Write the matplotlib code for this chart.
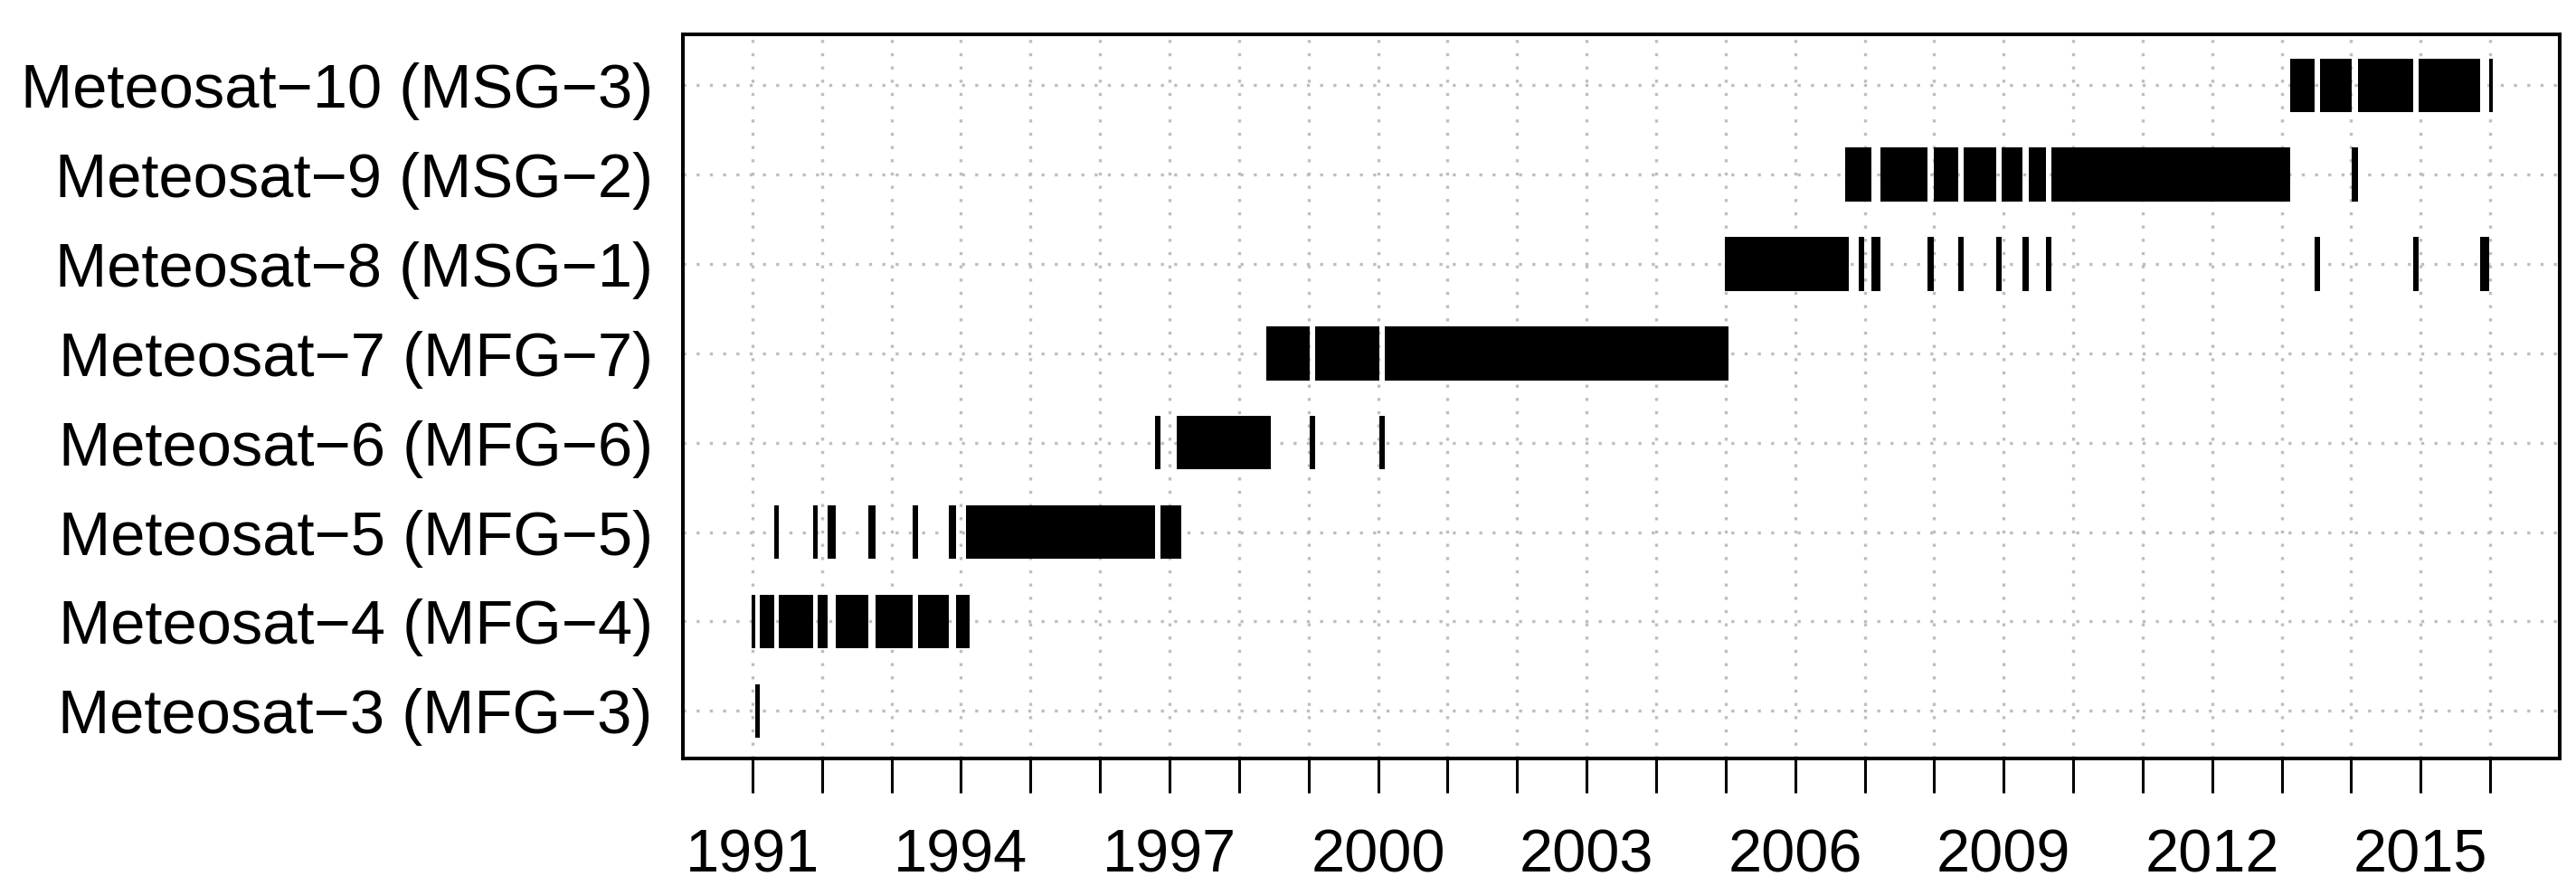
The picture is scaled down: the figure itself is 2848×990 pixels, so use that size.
import matplotlib
matplotlib.use("Agg")
import matplotlib.pyplot as plt

# Operational periods (decimal years), one list per satellite
meteosat_3 = [(1991.035, 1991.100)]
meteosat_4 = [(1990.983, 1991.035), (1991.100, 1991.308), (1991.373, 1991.880), (1991.945, 1992.088),
              (1992.193, 1992.661), (1992.765, 1993.311), (1993.389, 1993.819), (1993.923, 1994.131)]
meteosat_5 = [(1991.308, 1991.373), (1991.880, 1991.945), (1992.088, 1992.193), (1992.661, 1992.765),
              (1993.311, 1993.389), (1993.819, 1993.923), (1994.079, 1996.788), (1996.866, 1997.165)]
meteosat_6 = [(1996.788, 1996.866), (1997.100, 1998.463), (1999.022, 1999.100), (2000.022, 2000.100)]
meteosat_7 = [(1998.394, 1999.022), (1999.100, 2000.022), (2000.100, 2005.041)]
meteosat_8 = [(2004.987, 2006.769), (2006.912, 2006.990), (2007.094, 2007.224), (2007.900, 2007.991),
              (2008.342, 2008.420), (2008.888, 2008.966), (2009.265, 2009.356), (2009.603, 2009.681),
              (2013.478, 2013.554), (2014.893, 2014.974), (2015.857, 2015.987)]
meteosat_9 = [(2006.717, 2007.094), (2007.224, 2007.900), (2007.991, 2008.342), (2008.420, 2008.888),
              (2008.966, 2009.265), (2009.356, 2009.603), (2009.681, 2013.124), (2014.011, 2014.100)]
meteosat_10 = [(2013.124, 2013.478), (2013.554, 2014.011), (2014.100, 2014.893), (2014.974, 2015.857),
               (2015.987, 2016.040)]

satellite_names = ["Meteosat\u22123 (MFG\u22123)", "Meteosat\u22124 (MFG\u22124)", "Meteosat\u22125 (MFG\u22125)",
                   "Meteosat\u22126 (MFG\u22126)", "Meteosat\u22127 (MFG\u22127)", "Meteosat\u22128 (MSG\u22121)",
                   "Meteosat\u22129 (MSG\u22122)", "Meteosat\u221210 (MSG\u22123)"]
periods = [meteosat_3, meteosat_4, meteosat_5, meteosat_6, meteosat_7, meteosat_8, meteosat_9, meteosat_10]

year_ticks = list(range(1991, 2017))
year_labels = [str(y) if (y - 1991) % 3 == 0 else "" for y in year_ticks]


def main():
    plt.rcParams['font.family'] = ['Liberation Sans', 'DejaVu Sans']

    fig = plt.figure(figsize=(28.48, 9.9), dpi=100)
    ax = fig.add_axes([0.2651, 0.1528, 0.9937 - 0.2651, 0.9612 - 0.1528])

    # Dotted grey grid behind the bars
    grid_style = dict(color='#BEBEBE', lw=2.4, linestyle=(0, (1, 3.4)), zorder=1)
    for y in year_ticks:
        ax.axvline(y, **grid_style)
    for row in range(1, len(satellite_names) + 1):
        ax.axhline(row, **grid_style)

    # One row of black bars per satellite
    for row, spans in enumerate(periods, start=1):
        ax.broken_barh([(start, end - start) for start, end in spans], (row - 0.3, 0.6),
                       facecolors='black', edgecolor='none', zorder=2)

    ax.set_xlim(1990, 2017)
    ax.set_ylim(0.47, 8.565)

    ax.set_xticks(year_ticks)
    ax.set_xticklabels(year_labels, fontsize=48)
    ax.set_yticks(range(1, len(satellite_names) + 1))
    ax.set_yticklabels(satellite_names, fontsize=49.5)

    ax.tick_params(axis='x', length=27, width=2.2, pad=29, color='black')
    ax.tick_params(axis='y', length=0, pad=24)

    for spine in ax.spines.values():
        spine.set_linewidth(2.9)

    fig.savefig("out.png", dpi=100)


if __name__ == "__main__":
    main()
